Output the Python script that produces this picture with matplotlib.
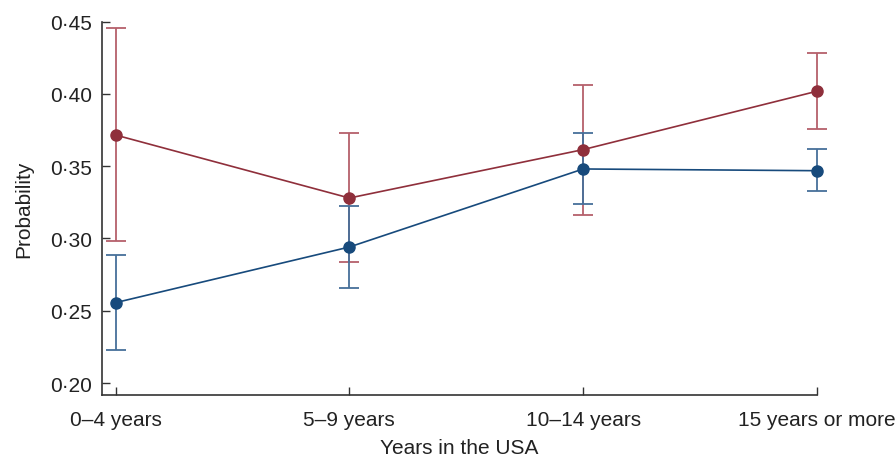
import matplotlib
matplotlib.use("Agg")
import matplotlib.pyplot as plt
from matplotlib.ticker import FuncFormatter

categories = ["0\u20134 years", "5\u20139 years", "10\u201314 years", "15 years or more"]

red_values = [0.3716, 0.3280, 0.3615, 0.4019]
red_lower = [0.2980, 0.2837, 0.3161, 0.3756]
red_upper = [0.4455, 0.3730, 0.4064, 0.4286]

blue_values = [0.2556, 0.2941, 0.3481, 0.3469]
blue_lower = [0.2230, 0.2657, 0.3237, 0.3329]
blue_upper = [0.2886, 0.3225, 0.3728, 0.3617]

plt.rcParams['font.family'] = ['Liberation Sans', 'DejaVu Sans']

fig = plt.figure(figsize=(8.96, 4.60), dpi=100)
top_px, bot_px = 22.7, 395.5
ax = fig.add_axes([101.5 / 896, 1 - bot_px / 460, (817 - 101.5) / 896, (bot_px - top_px) / 460])

x = list(range(len(categories)))

def draw(vals, lo, hi, col, ecol):
    yerr = [[v - l for v, l in zip(vals, lo)], [h - v for v, h in zip(vals, hi)]]
    eb = ax.errorbar(x, vals, yerr=yerr, fmt='none', ecolor=ecol, elinewidth=1.3,
                     capsize=7, capthick=1.3, zorder=2)
    for art in eb.lines[1] + eb.lines[2]:
        art.set_clip_on(False)
    ax.plot(x, vals, color=col, lw=1.2, marker='o', markersize=8,
            markerfacecolor=col, markeredgecolor=col, zorder=3, clip_on=False)

draw(red_values, red_lower, red_upper, '#8f2f3b', '#b5606b')
draw(blue_values, blue_lower, blue_upper, '#174a7c', '#46709a')

ax.set_xlim(-0.06, 3)
ax.set_ylim(0.19205, 0.45)
ax.set_xticks(x)
ax.set_xticklabels(categories)
ax.set_yticks([0.20, 0.25, 0.30, 0.35, 0.40, 0.45])
ax.yaxis.set_major_formatter(FuncFormatter(lambda v, p: f"{v:.2f}".replace('.', '\u00b7')))

for s in ['top', 'right']:
    ax.spines[s].set_visible(False)
for s in ['left', 'bottom']:
    ax.spines[s].set_color('#333333')
    ax.spines[s].set_linewidth(1.2)

ax.tick_params(axis='both', direction='in', length=6, width=1.0, color='#333333',
               labelsize=15, labelcolor='#222222')
ax.tick_params(axis='y', pad=7)
ax.tick_params(axis='x', pad=11)

ax.set_xlabel("Years in the USA", fontsize=15, color='#222222', labelpad=7)
ax.set_ylabel("Probability", fontsize=15, color='#222222', labelpad=12)

fig.savefig("out.png", dpi=100)
